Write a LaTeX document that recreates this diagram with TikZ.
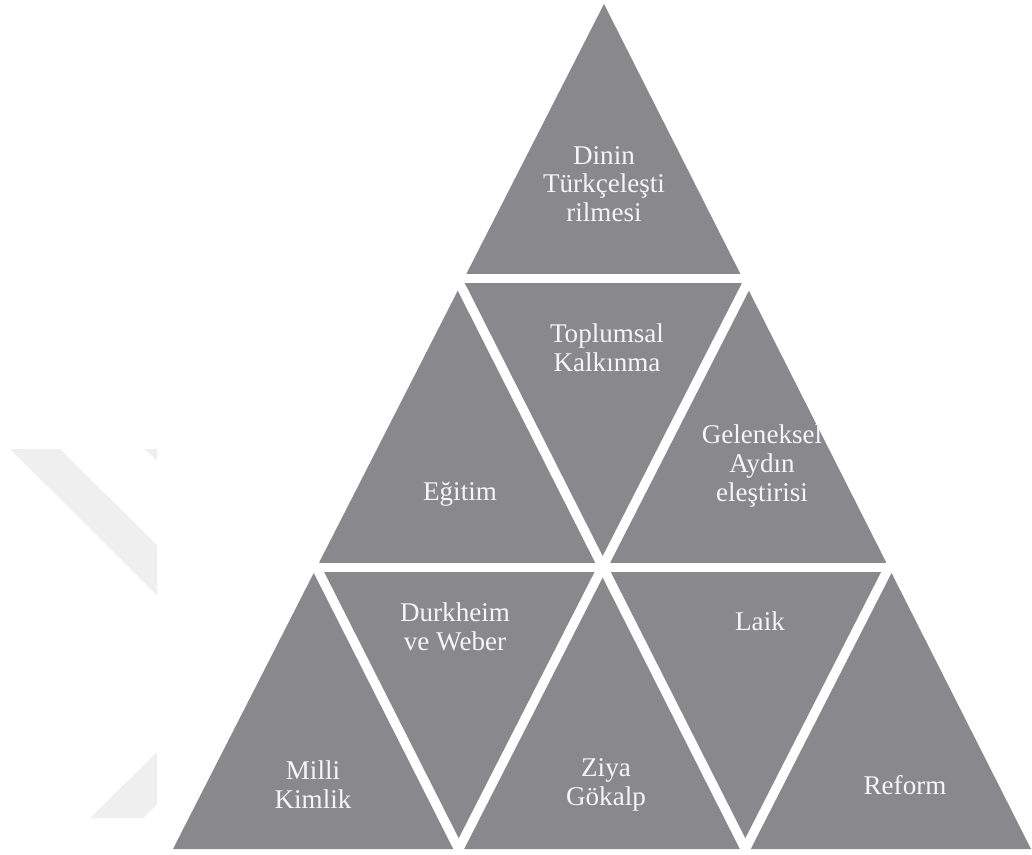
\documentclass[tikz,border=0pt]{standalone}
\usepackage{fontspec}
\setmainfont{Liberation Serif}
\newfontfamily\pyrfont{Liberation Serif}
\usepackage{tikz}
\usetikzlibrary{calc}
\definecolor{pyrgray}{RGB}{137,137,141}
\definecolor{wmgray}{RGB}{239,239,239}
\definecolor{pyrtext}{RGB}{246,246,246}
\def\PyrGap{5.4pt}

\begin{document}
\begin{tikzpicture}[x=0.02cm,y=-0.02cm,
	pyrlabel/.style={text=pyrtext,font=\pyrfont\fontsize{15.4}{16.4}\selectfont,align=center,inner sep=0pt},
	pyrgap/.style={white,line width=\PyrGap,shorten <=-8pt,shorten >=-8pt}]
	\useasboundingbox (0,0) rectangle (1032,855);
	% faint logo on the left
	\fill[wmgray] (10,449) -- (60,449) -- (157,545) -- (157,595) -- cycle;
	\fill[wmgray] (145,449) -- (157,449) -- (157,461) -- cycle;
	\fill[wmgray] (157,752) -- (90,818) -- (143,818) -- (157,804) -- cycle;
	% 
	\coordinate (top) at (604,4);
	\coordinate (bl) at (173,849);
	\coordinate (br) at (1031,849);
	% 
	\coordinate (l13) at ($(top)!0.333!(bl)$);
	\coordinate (l23) at ($(top)!0.667!(bl)$);
	\coordinate (r13) at ($(top)!0.333!(br)$);
	\coordinate (r23) at ($(top)!0.667!(br)$);
	\coordinate (b13) at ($(bl)!0.333!(br)$);
	\coordinate (b23) at ($(bl)!0.667!(br)$);
	% HOWTO: the top row is a little shorter than the others
	\coordinate (l13h) at ($(top)!0.325!(bl)$);
	\coordinate (r13h) at ($(top)!0.325!(br)$);
	% 
	\fill[pyrgray] (top) -- (bl) -- (br) -- cycle;
	\draw[pyrgap] (l13h) -- (r13h);
	\draw[pyrgap] (l23) -- (r23);
	\draw[pyrgap] (l13) -- (b23);
	\draw[pyrgap] (l23) -- (b13);
	\draw[pyrgap] (r13) -- (b13);
	\draw[pyrgap] (r23) -- (b23);
	% 
	\node[pyrlabel] (din) at (604,184) {Dinin\\Türkçeleşti\\rilmesi};
	\node[pyrlabel] (kalk) at (607,348) {Toplumsal\\Kalkınma};
	\node[pyrlabel] (egit) at (460,494) {Eğitim};
	\node[pyrlabel] (gel) at (762,466) {Geleneksel\\Aydın\\eleştirisi};
	\node[pyrlabel] (durk) at (455,627) {Durkheim\\ve Weber};
	\node[pyrlabel] (laik) at (760,621) {Laik};
	\node[pyrlabel] (milli) at (313,785) {Milli\\Kimlik};
	\node[pyrlabel] (ziya) at (606,785) {Ziya\\Gökalp};
	\node[pyrlabel] (ref) at (905,785) {Reform};
\end{tikzpicture}
\end{document}
